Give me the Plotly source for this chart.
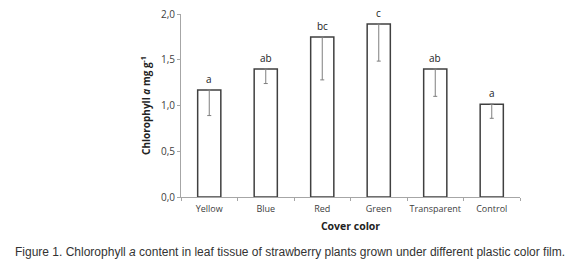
import plotly.graph_objects as go

categories = ["Yellow", "Blue", "Red", "Green", "Transparent", "Control"]
values = [1.17, 1.40, 1.75, 1.89, 1.40, 1.015]
err_minus = [0.28, 0.16, 0.47, 0.405, 0.30, 0.155]
letters = ["a", "ab", "bc", "c", "ab", "a"]
y_ticks = [0.0, 0.5, 1.0, 1.5, 2.0]
y_ticklabels = ["0,0", "0,5", "1,0", "1,5", "2,0"]

font_main = "Open Sans, Liberation Sans, Arial, sans-serif"

fig = go.Figure()
fig.add_trace(go.Bar(
    x=categories, y=values, width=0.41,
    marker=dict(color="white", line=dict(color="#404040", width=1.5)),
    error_y=dict(type="data", symmetric=False, array=[0]*len(values),
                 arrayminus=err_minus, color="#7f7f7f", thickness=1, width=2),
    showlegend=False,
))

for c, v, l in zip(categories, values, letters):
    fig.add_annotation(x=c, y=v, text=l, showarrow=False, yanchor="bottom", yshift=2,
                       font=dict(family=font_main, size=10, color="#222"))

plot_l, plot_r, plot_t, plot_b = 181, 520, 14, 197
fig.add_annotation(
    x=(290 - plot_l) / (plot_r - plot_l), xref="paper",
    y=-(252 - plot_b) / (plot_b - plot_t), yref="paper", yanchor="middle", xanchor="center",
    text="Figure 1. Chlorophyll <i>a</i> content in leaf tissue of strawberry plants grown under different plastic color film.",
    showarrow=False, font=dict(family="Liberation Sans, Arial, sans-serif", size=12, color="#333"))

fig.update_layout(
    width=580, height=267,
    margin=dict(l=181, r=60, t=14, b=70, autoexpand=False),
    plot_bgcolor="white", paper_bgcolor="white",
    xaxis=dict(
        showline=True, linecolor="#a6a6a6", linewidth=1, tickangle=0, automargin=False,
        ticks="outside", tickson="boundaries", ticklen=3, tickcolor="#a6a6a6",
        ticklabelstandoff=3,
        tickfont=dict(family=font_main, size=9, color="#404040"),
        title=dict(text="<b>Cover color</b>", font=dict(family=font_main, size=10.5, color="#222"), standoff=8),
    ),
    yaxis=dict(
        range=[0, 2.0], tickvals=y_ticks, ticktext=y_ticklabels, automargin=False,
        showline=True, linecolor="#a6a6a6", linewidth=1, showgrid=False, zeroline=False,
        ticks="outside", ticklen=3, tickcolor="#a6a6a6",
        tickfont=dict(family=font_main, size=10, color="#404040"),
        title=dict(text="<b>Chlorophyll <i>a</i> mg g<sup>-1</sup></b>", font=dict(family=font_main, size=10, color="#222"), standoff=8),
    ),
)

fig.write_html("out.html", post_script="document.body.style.margin='0';",
               config={"displayModeBar": False})
